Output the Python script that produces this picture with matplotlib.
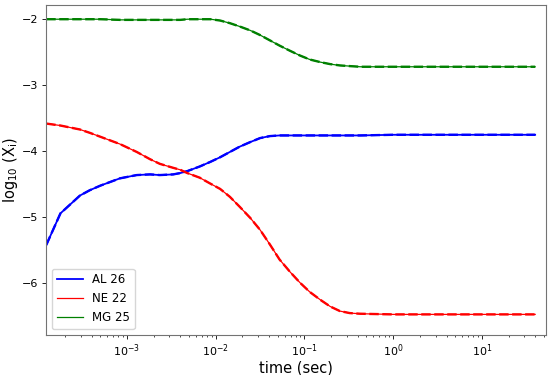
import numpy as np
import matplotlib
matplotlib.use('Agg')
import matplotlib.pyplot as plt

# log10 of time (sec)
log_t = [-3.91, -3.75, -3.53, -3.42, -3.30, -3.08, -2.89, -2.74, -2.63, -2.48,
         -2.40, -2.32, -2.18, -2.06, -1.95, -1.84, -1.73, -1.61, -1.50, -1.39,
         -1.28, -1.16, -1.05, -0.94, -0.82, -0.71, -0.60, -0.49, -0.37, 0.0,
         1.0, 1.6]

al26 = [-5.43, -4.95, -4.68, -4.60, -4.53, -4.42, -4.37, -4.36, -4.37, -4.36,
        -4.34, -4.31, -4.24, -4.17, -4.10, -4.02, -3.94, -3.87, -3.81, -3.78,
        -3.77, -3.77, -3.77, -3.77, -3.77, -3.77, -3.77, -3.77, -3.77, -3.76,
        -3.76, -3.76]

ne22 = [-3.59, -3.62, -3.68, -3.73, -3.79, -3.90, -4.02, -4.13, -4.20, -4.26,
        -4.29, -4.34, -4.41, -4.50, -4.58, -4.70, -4.85, -5.02, -5.20, -5.42,
        -5.65, -5.84, -6.00, -6.14, -6.26, -6.36, -6.43, -6.46, -6.47, -6.48,
        -6.48, -6.48]

mg25 = [-2.01, -2.01, -2.01, -2.01, -2.01, -2.02, -2.02, -2.02, -2.02, -2.02,
        -2.02, -2.01, -2.01, -2.01, -2.03, -2.07, -2.12, -2.18, -2.25, -2.33,
        -2.41, -2.49, -2.56, -2.62, -2.66, -2.69, -2.71, -2.72, -2.73, -2.73,
        -2.73, -2.73]

labels = ['AL 26', 'NE 22', 'MG 25']
colors = ['blue', 'red', 'green']
series = [al26, ne22, mg25]
legend_lw = [1.3, 0.9, 0.9]

t = 10.0 ** np.array(log_t)

fig = plt.figure(figsize=(5.5, 3.75), dpi=100)
ax = fig.add_axes([0.0836, 0.107, 0.9094, 0.8805])

for y, c, lab, lw in zip(series, colors, labels, legend_lw):
    ax.plot(t, y, color=c, lw=lw, label=lab)
    ax.plot(t, y, color=c, lw=1.7, ls=(0, (4, 1.5)))

ax.set_xscale('log')
ax.set_xlim(10 ** -3.913, 10 ** 1.724)
ax.set_ylim(-6.79, -1.79)
ax.set_yticks([-6, -5, -4, -3, -2])

ax.set_xlabel('time (sec)', fontsize=10.5, labelpad=1)
ax.set_ylabel(r'log$_{10}$ (X$_{\rm i}$)', fontsize=10.5, labelpad=1.5)
ax.tick_params(which='major', labelsize=8, length=2.8, width=0.6, pad=2.8)
ax.tick_params(which='minor', length=1.6, width=0.5)
for s in ax.spines.values():
    s.set_color('0.45')
    s.set_linewidth(0.8)

ax.legend(loc='lower left', fontsize=8.5, handlelength=2.2)

fig.savefig('out.png', dpi=100)
